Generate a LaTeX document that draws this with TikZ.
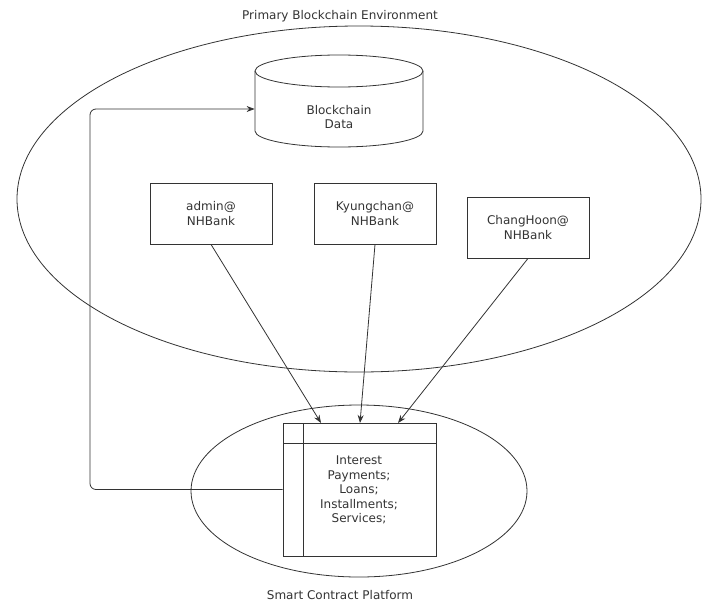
\documentclass[tikz,border=0pt]{standalone}
\usepackage{fontspec}
\setmainfont{DejaVu Sans}
\usetikzlibrary{shapes.geometric,arrows.meta}
\begin{document}
\begin{tikzpicture}[x=1pt,y=-1pt,
  line width=0.8pt, draw=black!80,
  lbl/.style={font=\fontsize{12}{14.5}\selectfont, text=black!80, align=center},
  acct/.style={draw, minimum width=122pt, minimum height=61pt, lbl},
  flow/.style={-{Stealth[length=8pt,width=6pt]}}
]
\useasboundingbox (0,0) rectangle (708,605);

% environments
\node[draw, ellipse, minimum width=684pt, minimum height=346pt] (env) at (359,199) {};
\node[lbl] (envlbl) at (340,16) {Primary Blockchain Environment};
\node[draw, ellipse, minimum width=336pt, minimum height=172pt] (scp) at (359,491) {};
\node[lbl] (scplbl) at (340,595) {Smart Contract Platform};

% blockchain data store: cylinder drawn from its ellipses
\node[minimum width=168pt, minimum height=92pt, inner sep=0pt] (data) at (339,101) {};
\draw[fill=white] (255,71) -- (255,131) arc[start angle=180, end angle=360, x radius=84pt, y radius=16pt]
  -- (423,71);
\draw (339,71) ellipse[x radius=84pt, y radius=16pt];
\node[lbl] (datalbl) at (339,117) {Blockchain\\Data};

% accounts
\node[acct] (admin) at (211,213.5) {admin@\\NHBank};
\node[acct] (kyung) at (375,213.5) {Kyungchan@\\NHBank};
\node[acct] (chang) at (528,227.5) {ChangHoon@\\NHBank};

% contract table
\node[draw, minimum width=153pt, minimum height=133pt] (tbl) at (359.5,489.5) {};
\draw (303,423) -- (303,556);
\draw (283,443) -- (436,443);
\node[lbl] (tbltext) at (359,490) {Interest\\Payments;\\Loans;\\Installments;\\Services;};

% connectors
\coordinate (ta) at (321,423);
\coordinate (tk) at (360,423);
\coordinate (tc) at (398,423);
\draw[flow] (admin.south) -- (ta);
\draw[flow] (kyung.south) -- (tk);
\draw[flow] (chang.south) -- (tc);
\draw[flow, rounded corners=6pt] (tbl.west) -| (90,109) -- (data.west |- 0,109);
\end{tikzpicture}
\end{document}
